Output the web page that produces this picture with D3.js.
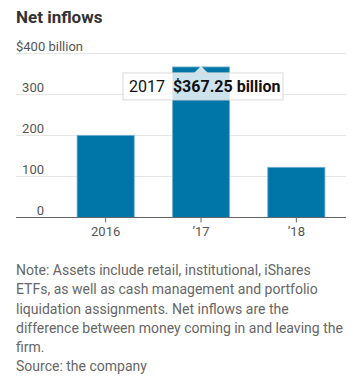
<!DOCTYPE html>
<html>
<head>
<meta charset="utf-8">
<script src="https://cdn.jsdelivr.net/npm/d3@7"></script>
<style>
  body { margin: 0; background: #fff; }
  svg { display: block; font-family: "Roboto", "Noto Sans", sans-serif; }
  .note { position: absolute; left: 16px; top: 261px; width: 334px; font: 14px/19.3px "Roboto", sans-serif; color: #666; }
</style>
</head>
<body>
<svg id="chart" width="354" height="379"></svg>
<script>
let years = ['2016', '2017', '2018'];
let yearLabels = ['2016', '\u201917', '\u201918'];
let inflows = [200.5, 367.25, 122.5];
let yTicks = [0, 100, 200, 300, 400];
let noteLines = [
  'Note: Assets include retail, institutional, iShares',
  'ETFs, as well as cash management and portfolio',
  'liquidation assignments. Net inflows are the',
  'difference between money coming in and leaving the',
  'firm.',
  'Source: the company'
];

let margin = {top: 53.5, left: 16, right: 8};
let svgWidth = 354;
let plotBottom = 217.5;

let xScale = d3.scaleBand().domain(years).range([58, 344]).paddingInner(0.4).paddingOuter(0.2);
let yScale = d3.scaleLinear().domain([0, 400]).range([plotBottom, margin.top]);

let svg = d3.select('#chart');

svg.append('text')
  .attr('x', 16).attr('y', 23)
  .attr('font-size', 17).attr('font-weight', 700)
  .attr('fill', '#333')
  .text('Net inflows');

// gridlines + y labels
let grid = svg.append('g').attr('class', 'grid');
grid.selectAll('line')
  .data(yTicks.filter(d => d > 0))
  .enter().append('line')
  .attr('x1', margin.left).attr('x2', svgWidth - margin.right)
  .attr('y1', d => yScale(d)).attr('y2', d => yScale(d))
  .attr('stroke', '#e6e6e6').attr('stroke-width', 1);

grid.selectAll('text')
  .data(yTicks)
  .enter().append('text')
  .attr('x', d => d === 400 ? 16 : 44)
  .attr('y', d => yScale(d) - 3)
  .attr('text-anchor', d => d === 400 ? 'start' : 'end')
  .attr('font-size', 13).attr('fill', '#555')
  .text(d => d === 400 ? '$400 billion' : d);

// bars
svg.append('g').selectAll('rect')
  .data(years)
  .enter().append('rect')
  .attr('x', d => xScale(d))
  .attr('width', xScale.bandwidth())
  .attr('y', (d, i) => yScale(inflows[i]))
  .attr('height', (d, i) => plotBottom - yScale(inflows[i]))
  .attr('fill', '#0076a8')
  .attr('stroke', '#7fb6d0').attr('stroke-width', 0.8);

// x axis
let xAxis = svg.append('g').attr('transform', `translate(0,${plotBottom})`);
xAxis.append('line')
  .attr('x1', margin.left).attr('x2', svgWidth - margin.right)
  .attr('stroke', '#666').attr('stroke-width', 1);
xAxis.selectAll('.tick')
  .data(years)
  .enter().append('line')
  .attr('x1', d => xScale(d) + xScale.bandwidth() / 2)
  .attr('x2', d => xScale(d) + xScale.bandwidth() / 2)
  .attr('y1', 0).attr('y2', 5)
  .attr('stroke', '#666');
xAxis.selectAll('text')
  .data(years)
  .enter().append('text')
  .attr('x', d => xScale(d) + xScale.bandwidth() / 2)
  .attr('y', 18)
  .attr('text-anchor', 'middle')
  .attr('font-size', 13).attr('fill', '#555')
  .text((d, i) => yearLabels[i]);

// tooltip on 2017
let tipX = xScale('2017') + xScale.bandwidth() / 2;
let tipTop = yScale(inflows[1]) - 1;
let tip = svg.append('g');
tip.append('path')
  .attr('d', `M${tipX - 7},${tipTop + 7} L${tipX},${tipTop} L${tipX + 7},${tipTop + 7} Z`)
  .attr('fill', 'rgba(255,255,255,0.8)');
tip.append('rect')
  .attr('x', 123).attr('y', tipTop + 7)
  .attr('width', 160).attr('height', 27)
  .attr('fill', 'rgba(255,255,255,0.8)')
  .attr('stroke', '#d9d9d9');
let tipText = tip.append('text')
  .attr('x', 129).attr('y', tipTop + 26)
  .attr('font-size', 16).attr('fill', '#111');
tipText.append('tspan').text('2017 ');
tipText.append('tspan').attr('dx', 4).attr('font-weight', 700).text('$' + inflows[1] + ' billion');
</script>
<div class="note"></div>
<script>
d3.select('.note').selectAll('div').data(noteLines).enter().append('div').text(d => d);
</script>
</body>
</html>
